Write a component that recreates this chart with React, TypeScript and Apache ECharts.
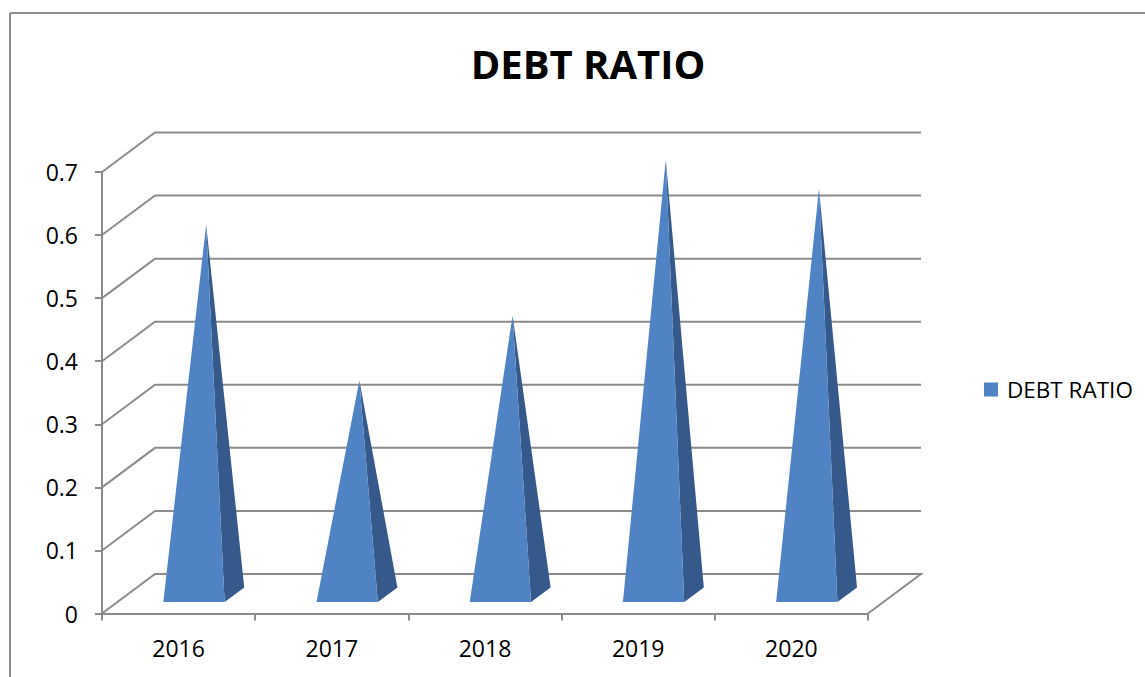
import React, { useEffect, useRef } from "react";
import * as echarts from "echarts";

const categories = ["2016", "2017", "2018", "2019", "2020"];
const debtRatio = [0.584, 0.337, 0.44, 0.687, 0.641];
const yTicks = [0, 0.1, 0.2, 0.3, 0.4, 0.5, 0.6, 0.7];
const seriesName = "DEBT RATIO";
const titleText = "DEBT RATIO";

const DX = 53;
const DY = -39.5;
const FRONT_T = 0.29;
const BACK_T = 0.66;
const APEX_T = 0.52;
const HALF_W = 0.2;
const FRONT_COLOR = "#5083C4";
const SIDE_COLOR = "#34598A";
const LINE_COLOR = "#8c8c8c";
const FONT = "'Open Sans', 'Liberation Sans', sans-serif";

export default function App() {
  const ref = useRef<HTMLDivElement>(null);
  useEffect(() => {
    if (!ref.current) return;
    const chart = echarts.init(ref.current, undefined, { renderer: "svg" });
    const n = categories.length;
    chart.setOption({
      animation: false,
      backgroundColor: "#ffffff",
      textStyle: { fontFamily: FONT },
      title: {
        text: titleText,
        left: 588,
        top: 43,
        textAlign: "center",
        padding: 0,
        textStyle: { fontFamily: FONT, fontSize: 40, fontWeight: "bold", color: "#000" },
      },
      legend: {
        left: 984,
        top: 378,
        itemWidth: 14,
        itemHeight: 14,
        itemGap: 10,
        padding: 0,
        data: [{ name: seriesName, icon: "rect", itemStyle: { color: FRONT_COLOR } }],
        textStyle: { fontFamily: FONT, fontSize: 22.5, color: "#000", padding: [0, 0, 0, 4] },
      },
      graphic: [
        { type: "line", shape: { x1: 10, y1: 13, x2: 1145, y2: 13 }, style: { stroke: "#8e8e8e", lineWidth: 2 } },
        { type: "line", shape: { x1: 10, y1: 13, x2: 10, y2: 677 }, style: { stroke: "#8e8e8e", lineWidth: 2 } },
      ],
      grid: { left: 102, top: 172, width: 766, height: 441.5 },
      xAxis: {
        type: "category",
        data: categories,
        boundaryGap: true,
        axisLine: { show: true, lineStyle: { color: LINE_COLOR, width: 2 } },
        axisTick: { show: true, length: 7, alignWithLabel: false, lineStyle: { color: LINE_COLOR, width: 2 } },
        axisLabel: { fontFamily: FONT, fontSize: 23, color: "#000", margin: 23 },
        splitLine: { show: false },
      },
      yAxis: {
        type: "value",
        min: 0,
        max: 0.7,
        interval: 0.1,
        axisLine: { show: true, lineStyle: { color: LINE_COLOR, width: 2 } },
        axisTick: { show: true, length: 7, lineStyle: { color: LINE_COLOR, width: 2 } },
        axisLabel: { fontFamily: FONT, fontSize: 23, color: "#000", margin: 24 },
        splitLine: { show: false },
      },
      series: [
        {
          type: "custom",
          name: "grid3d",
          silent: true,
          z: 1,
          data: yTicks.map((v) => [0, v]),
          renderItem: (params: any, api: any) => {
            const v = api.value(1);
            const p0 = api.coord([0, v]);
            const p1 = api.coord([n - 1, v]);
            const bw = api.size([1, 0])[0];
            const left = p0[0] - bw / 2;
            const right = p1[0] + bw / 2;
            const y = p0[1];
            const pts: number[][] = [
              [left, y],
              [left + DX, y + DY],
              [right + DX, y + DY],
            ];
            if (v === 0) pts.push([right, y]);
            return {
              type: "polyline",
              shape: { points: pts },
              style: { stroke: LINE_COLOR, lineWidth: 2, fill: null },
            };
          },
        },
        {
          type: "custom",
          name: seriesName,
          z: 3,
          itemStyle: { color: FRONT_COLOR },
          data: categories.map((c, i) => [i, debtRatio[i]]),
          renderItem: (params: any, api: any) => {
            const i = api.value(0);
            const v = api.value(1);
            const base = api.coord([i, 0]);
            const top = api.coord([i, v]);
            const bw = api.size([1, 0])[0];
            const hw = bw * HALF_W;
            const fl = [base[0] - hw + FRONT_T * DX, base[1] + FRONT_T * DY];
            const fr = [base[0] + hw + FRONT_T * DX, base[1] + FRONT_T * DY];
            const br = [base[0] + hw + BACK_T * DX, base[1] + BACK_T * DY];
            const apex = [top[0] + APEX_T * DX, top[1] + APEX_T * DY];
            return {
              type: "group",
              children: [
                { type: "polygon", shape: { points: [fr, br, apex] }, style: { fill: SIDE_COLOR } },
                { type: "polygon", shape: { points: [fl, fr, apex] }, style: { fill: FRONT_COLOR } },
              ],
            };
          },
        },
      ],
    });
    return () => chart.dispose();
  }, []);
  return (
    <div
      ref={ref}
      style={{ position: "fixed", left: 0, top: 0, width: 1145, height: 677 }}
    />
  );
}
